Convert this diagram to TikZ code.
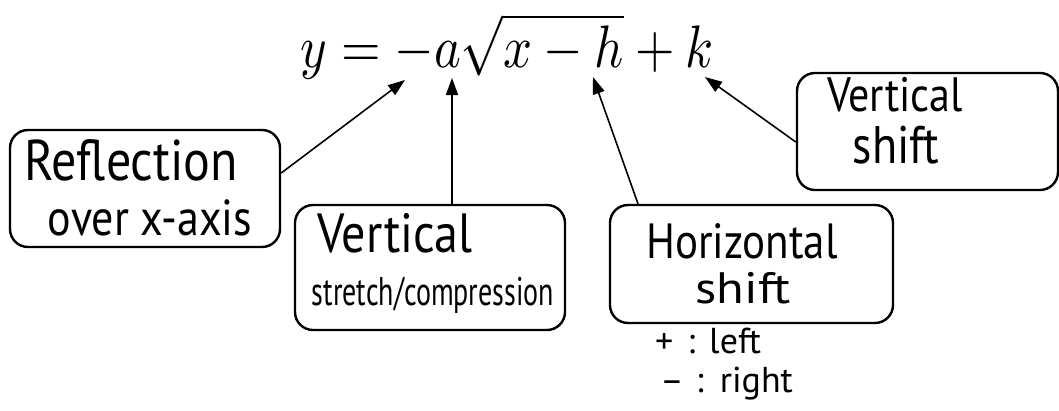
\documentclass[tikz,border=0pt]{standalone}
\usepackage{graphicx}
\usepackage[no-math]{fontspec}
\setmainfont{PT Sans}
\usetikzlibrary{arrows.meta,positioning}
\newcommand{\handfont}[1]{\fontsize{#1}{#1}\selectfont}
\newcommand{\tall}[1]{\scalebox{1}[1.15]{#1}}

\begin{document}
\begin{tikzpicture}[
  x=1pt,y=-1pt,
  box/.style={draw,line width=2.4pt,rounded corners=18pt},
  txt/.style={anchor=base,inner sep=0pt},
  ar/.style={-{Triangle[length=17pt,width=12pt]},line width=1.6pt}
]
\useasboundingbox[fill=white] (0,0) rectangle (1059,410);
\node[txt] (eq) at (507,67) {\scalebox{5.08}[6]{$y=-a\sqrt{x-h}+k$}};
% arrow heads just under the equation
\coordinate (tneg) at (405,80);
\coordinate (ta) at (452,78);
\coordinate (th) at (593,77);
\coordinate (tk) at (705,77);
% boxes
\node[box,minimum width=270pt,minimum height=117pt] (refl) at (145,188.5) {};
\node[box,minimum width=270pt,minimum height=125pt] (vstretch) at (430,267.5) {};
\node[box,minimum width=283pt,minimum height=118pt] (hshift) at (751.5,264) {};
\node[box,minimum width=261pt,minimum height=117pt] (vshift) at (927.5,131.5) {};
\node[txt,font=\handfont{50}] (refla) at (131,180) {\tall{Reflection}};
\node[txt,font=\handfont{44}] (reflb) at (150,235) {\tall{over x-axis}};
\node[txt,font=\handfont{48}] (vsta) at (395,252) {\tall{Vertical}};
\node[txt,font=\handfont{40}] (vstb) at (433,305) {\scalebox{0.7}[1]{stretch/compression}};
\node[txt,font=\handfont{43}] (hsha) at (742,258) {\tall{Horizontal}};
\node[txt,font=\handfont{44}] (hshb) at (743,303) {\scalebox{1.15}[1]{shift}};
\node[txt,font=\handfont{42}] (vsha) at (895,111) {\tall{Vertical}};
\node[txt,font=\handfont{46}] (vshb) at (896,163) {\tall{shift}};
% sign notes under the horizontal shift box
\node[txt,anchor=base west,font=\handfont{36}] (plus) at (655,353) {+\hspace{14pt}:\hspace{14pt}left};
\node[txt,anchor=base west,font=\handfont{36}] (minus) at (660,392) {–\hspace{12pt}:\hspace{16pt}right};
\draw[ar] ([yshift=15.5pt]refl.east) -- (tneg);
\draw[ar] ([xshift=22pt]vstretch.north) -- (ta);
\draw[ar] ([xshift=-113.5pt]hshift.north) -- (th);
\draw[ar] ([yshift=-10.5pt]vshift.west) -- (tk);
\end{tikzpicture}
\end{document}
